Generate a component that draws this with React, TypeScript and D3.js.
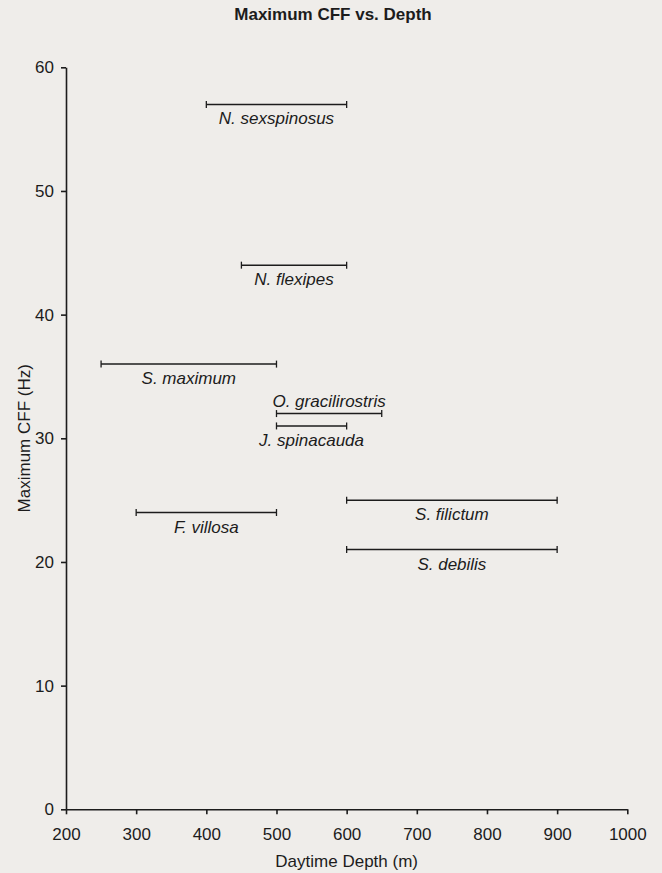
import * as d3 from "d3";
import React, { useRef, useEffect } from "react";

const species = [
  "N. sexspinosus",
  "N. flexipes",
  "S. maximum",
  "O. gracilirostris",
  "J. spinacauda",
  "F. villosa",
  "S. filictum",
  "S. debilis",
];
const depthMin = [400, 450, 250, 500, 500, 300, 600, 600];
const depthMax = [600, 600, 500, 650, 600, 500, 900, 900];
const maxCff = [57, 44, 36, 32, 31, 24, 25, 21];
const labelSide = ["below", "below", "below", "above", "below", "below", "below", "below"];

const xTicks = [200, 300, 400, 500, 600, 700, 800, 900, 1000];
const yTicks = [0, 10, 20, 30, 40, 50, 60];

const width = 662;
const height = 873;
const font = "'Liberation Sans', Arial, Helvetica, sans-serif";
const ink = "#1c1c1c";

function App() {
  const ref = useRef(null);

  useEffect(() => {
    const svg = d3.select(ref.current);
    svg.selectAll("*").remove();

    const x = d3.scaleLinear().domain([200, 1000]).range([66, 627.3]);
    const y = d3.scaleLinear().domain([0, 60]).range([809.3, 67.3]);

    svg
      .append("rect")
      .attr("width", width)
      .attr("height", height)
      .attr("fill", "#efedea");

    const xAxis = d3
      .axisBottom(x)
      .tickValues(xTicks)
      .tickFormat(d3.format("d"))
      .tickSize(5)
      .tickSizeOuter(0)
      .tickPadding(14);
    const gx = svg
      .append("g")
      .attr("transform", `translate(0,${y(0)})`)
      .call(xAxis);
    gx.selectAll("path, line").attr("stroke", ink).attr("stroke-width", 1.6);
    gx.selectAll("text")
      .attr("font-family", font)
      .attr("font-size", 17)
      .attr("fill", ink);

    const yAxis = d3.axisLeft(y).tickValues(yTicks).tickSize(5).tickSizeOuter(0).tickPadding(7);
    const gy = svg
      .append("g")
      .attr("transform", `translate(${x(200)},0)`)
      .call(yAxis);
    gy.selectAll("path, line").attr("stroke", ink).attr("stroke-width", 1.6);
    gy.selectAll("text")
      .attr("font-family", font)
      .attr("font-size", 17)
      .attr("fill", ink);
    svg.selectAll(".domain").attr("fill", "none");

    const rows = species.map((name, i) => ({
      name,
      lo: depthMin[i],
      hi: depthMax[i],
      v: maxCff[i],
      side: labelSide[i],
    }));

    const g = svg.append("g");
    const bar = g.selectAll("g.range").data(rows).join("g").attr("class", "range");
    bar
      .append("line")
      .attr("x1", (d) => x(d.lo))
      .attr("x2", (d) => x(d.hi))
      .attr("y1", (d) => y(d.v))
      .attr("y2", (d) => y(d.v))
      .attr("stroke", ink)
      .attr("stroke-width", 1.5);
    bar
      .selectAll("line.cap")
      .data((d) => [
        { px: x(d.lo), py: y(d.v) },
        { px: x(d.hi), py: y(d.v) },
      ])
      .join("line")
      .attr("class", "cap")
      .attr("x1", (c) => c.px)
      .attr("x2", (c) => c.px)
      .attr("y1", (c) => c.py - 3.5)
      .attr("y2", (c) => c.py + 3.5)
      .attr("stroke", ink)
      .attr("stroke-width", 1.3);
    bar
      .append("text")
      .attr("x", (d) => x((d.lo + d.hi) / 2))
      .attr("y", (d) => y(d.v) + (d.side === "above" ? -7 : 20))
      .attr("text-anchor", "middle")
      .attr("font-family", font)
      .attr("font-style", "italic")
      .attr("font-size", 17)
      .attr("fill", ink)
      .text((d) => d.name);

    svg
      .append("text")
      .attr("x", 333)
      .attr("y", 20)
      .attr("text-anchor", "middle")
      .attr("font-family", font)
      .attr("font-weight", "bold")
      .attr("font-size", 17)
      .attr("fill", ink)
      .text("Maximum CFF vs. Depth");

    svg
      .append("text")
      .attr("x", x(600))
      .attr("y", 867)
      .attr("text-anchor", "middle")
      .attr("font-family", font)
      .attr("font-size", 17)
      .attr("fill", ink)
      .text("Daytime Depth (m)");

    svg
      .append("text")
      .attr("transform", `translate(30,${y(30)}) rotate(-90)`)
      .attr("text-anchor", "middle")
      .attr("font-family", font)
      .attr("font-size", 17)
      .attr("fill", ink)
      .text("Maximum CFF (Hz)");
  }, []);

  return (
    <div style={{ position: "absolute", left: 0, top: 0 }}>
      <svg ref={ref} width={width} height={height} style={{ display: "block" }}></svg>
    </div>
  );
}

export default App;
